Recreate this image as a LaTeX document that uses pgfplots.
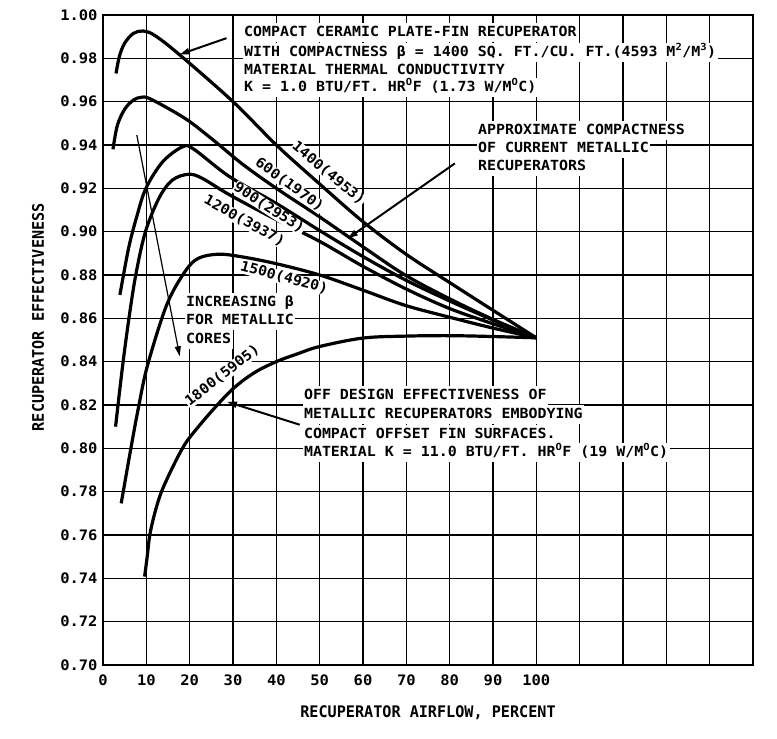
\documentclass[border=0pt]{standalone}
\usepackage{fontspec}
\setmainfont{DejaVu Sans Mono}[FakeStretch=1.07]
\newfontfamily\labfont{DejaVu Sans Mono}[FakeStretch=0.95]
\usepackage{pgfplots}
\pgfplotsset{compat=1.18}
\usetikzlibrary{arrows.meta}

\tikzset{
  note/.style={fill=white, inner xsep=1.5bp, inner ysep=3.5bp, anchor=west,
               text height=10bp, text depth=2bp, font=\fontsize{14}{16}\selectfont\bfseries},
  clab/.style={fill=white, inner sep=0.6bp, text height=10bp, text depth=2bp,
               font=\fontsize{14}{16}\selectfont\bfseries},
  curve/.style={black, line width=3.2bp, smooth, tension=0.55, on layer=axis foreground},
  pointer/.style={black, line width=2bp, -{Triangle[length=10bp,width=6bp]}},
}

\begin{document}
\begin{tikzpicture}
\begin{axis}[
  set layers,
  scale only axis,
  width=650bp, height=650bp,
  xmin=0, xmax=150, ymin=0.70, ymax=1.00,
  xtick={0,10,...,140},
  xticklabels={0,10,20,30,40,50,60,70,80,90,100,{},{},{},{}},
  ytick={0.70,0.72,0.74,0.76,0.78,0.80,0.82,0.84,0.86,0.88,0.90,0.92,0.94,0.96,0.98,1.00},
  yticklabel style={xshift=-2bp, /pgf/number format/fixed, /pgf/number format/fixed zerofill,
                    /pgf/number format/precision=2},
  xticklabel style={yshift=-6bp},
  /pgf/number format/assume math mode=true,
  tick label style={font=\fontsize{14.5}{16}\selectfont\bfseries},
  major tick length=0pt,
  grid=major,
  grid style={black, line width=1.3bp},
  axis line style={black, line width=2.6bp},
  xlabel={RECUPERATOR AIRFLOW, PERCENT},
  ylabel={RECUPERATOR EFFECTIVENESS},
  label style={font=\labfont\fontsize{16}{18}\selectfont\bfseries},
  xlabel style={at={(axis description cs:0.5,-0.074)}, anchor=center},
  ylabel style={at={(axis description cs:-0.10,0.535)}, anchor=center},
]

\begin{pgfonlayer}{axis foreground}
% --- texto sobre fondo blanco (tapa la rejilla) ---
\node[note] at (axis cs:32.2,0.9917) {COMPACT CERAMIC PLATE-FIN RECUPERATOR};
\node[note] at (axis cs:32.2,0.9829) {WITH COMPACTNESS β = 1400 SQ. FT./CU. FT.(4593 M\textsuperscript{2}/M\textsuperscript{3})};
\node[note] at (axis cs:32.2,0.9745) {MATERIAL THERMAL CONDUCTIVITY};
\node[note] at (axis cs:32.2,0.9667) {K = 1.0 BTU/FT. HR\textsuperscript{O}F (1.73 W/M\textsuperscript{O}C)};

\node[note] at (axis cs:86.2,0.9469) {APPROXIMATE COMPACTNESS};
\node[note] at (axis cs:86.2,0.9384) {OF CURRENT METALLIC};
\node[note] at (axis cs:86.2,0.9300) {RECUPERATORS};

\node[note] at (axis cs:18.8,0.8674) {INCREASING β};
\node[note] at (axis cs:18.8,0.8591) {FOR METALLIC};
\node[note] at (axis cs:18.8,0.8503) {CORES};

\node[note] at (axis cs:46,0.8242) {OFF DESIGN EFFECTIVENESS OF};
\node[note] at (axis cs:46,0.8154) {METALLIC RECUPERATORS EMBODYING};
\node[note] at (axis cs:46,0.8066) {COMPACT OFFSET FIN SURFACES.};
\node[note] at (axis cs:46,0.7983) {MATERIAL K = 11.0 BTU/FT. HR\textsuperscript{O}F (19 W/M\textsuperscript{O}C)};

% --- etiquetas de las curvas ---
\node[clab, rotate=-40] at (axis cs:52.0,0.9268) {1400(4953)};
\node[clab, rotate=-36] at (axis cs:43.0,0.9215) {600(1970)};
\node[clab, rotate=-33] at (axis cs:38.3,0.9108) {900(2953)};
\node[clab, rotate=-29] at (axis cs:32.6,0.9048) {1200(3937)};
\node[clab, rotate=-15] at (axis cs:41.8,0.8786) {1500(4920)};
\node[clab, rotate=38]  at (axis cs:27.6,0.8335) {1800(5905)};
\end{pgfonlayer}

% --- curvas ---
% 1400 (ceramica)
\addplot[curve] coordinates {
  (3.0,0.973) (3.8,0.981) (5,0.987) (7,0.9915) (9.3,0.9926) (12,0.9905)
  (17.7,0.9816) (30,0.960) (40,0.940) (50,0.922) (60,0.9046) (70,0.8895)
  (80,0.8765) (90,0.8637) (100,0.851)};
% 600
\addplot[curve] coordinates {
  (2.3,0.938) (3.3,0.949) (5,0.9565) (7,0.9607) (8.8,0.962) (11,0.9612)
  (18.9,0.9523) (25,0.943) (32.3,0.931) (40,0.920) (50,0.9068) (60,0.893)
  (69.7,0.880) (80,0.869) (90,0.8595) (100,0.851)};
% 900
\addplot[curve] coordinates {
  (3.9,0.8708) (5.9,0.8923) (7.8,0.907) (9.9,0.920) (13.8,0.9323) (18.4,0.9392)
  (21,0.938) (29.2,0.9254) (40,0.913) (50,0.9005) (60,0.8885) (70,0.8775)
  (80,0.868) (90,0.8592) (100,0.851)};
% 1200
\addplot[curve] coordinates {
  (2.9,0.810) (4.55,0.8385) (6.2,0.863) (7.7,0.8815) (9.8,0.900) (12.9,0.9154)
  (16,0.9238) (19.8,0.9265) (23,0.9245) (29.2,0.917) (40,0.9055) (50,0.8955)
  (60,0.884) (70,0.8735) (80,0.8645) (90,0.8575) (100,0.851)};
% 1500
\addplot[curve] coordinates {
  (4.2,0.7746) (6.3,0.7985) (8.2,0.819) (10.3,0.8385) (14.7,0.8662) (18.9,0.8815)
  (22,0.8877) (26.7,0.8896) (32.3,0.8883) (40,0.8852) (50,0.880) (60,0.873)
  (69.7,0.866) (80,0.8605) (90,0.8555) (100,0.851)};
% 1800
\addplot[curve] coordinates {
  (9.6,0.7408) (10.2,0.750) (10.8,0.760) (12,0.7705) (13.5,0.780) (16,0.791)
  (18.2,0.7995) (20,0.805) (24.8,0.8165) (30,0.8275) (35,0.835) (40,0.840)
  (45,0.8437) (50,0.847) (60,0.8509) (70,0.8518) (80,0.852) (90,0.8516) (100,0.851)};

% --- flechas ---
\begin{pgfonlayer}{axis foreground}
\draw[pointer] (axis cs:28.5,0.9893) -- (axis cs:17.7,0.9818);
\draw[pointer] (axis cs:81.2,0.9315) -- (axis cs:56.5,0.8969);
\draw[pointer, line width=1.2bp] (axis cs:7.8,0.9446) -- (axis cs:17.7,0.8425);
\draw[pointer] (axis cs:45.4,0.8109) -- (axis cs:28.6,0.8215);
\end{pgfonlayer}

\end{axis}
% margen como en la imagen original
\path (current axis.south west) ++(-103bp,-74bp) (current axis.north east) ++(24bp,15bp);
\end{tikzpicture}
\end{document}
